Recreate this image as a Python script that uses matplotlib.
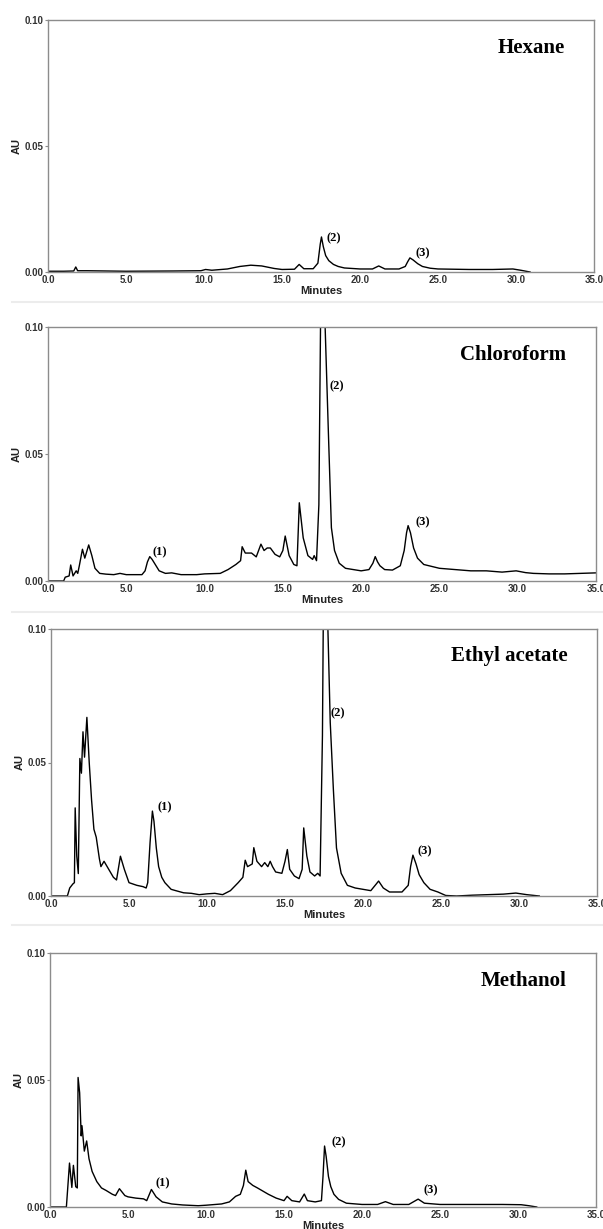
import matplotlib
matplotlib.use("Agg")
import matplotlib.pyplot as plt
from matplotlib.lines import Line2D

W, H = 603, 1229

# --- data (time in minutes, absorbance in AU) ---
hex_t = [0.0, 1.0, 1.65, 1.78, 1.9, 2.5, 5.0, 8.0, 9.8, 10.1, 10.5, 11.5, 12.3, 13.0, 13.7, 14.5,
         15.0, 15.8, 16.1, 16.4, 17.0, 17.3, 17.45, 17.53, 17.65, 17.8, 18.0, 18.3, 18.6, 19.0, 20.0,
         20.8, 21.2, 21.6, 22.5, 22.9, 23.05, 23.2, 23.4, 23.7, 24.0, 24.5, 25.0, 27.0, 28.5, 29.8,
         30.3, 30.9]
hex_au = [0.0003, 0.0003, 0.0004, 0.002, 0.0005, 0.0005, 0.0003, 0.0004, 0.0005, 0.001, 0.0007,
          0.0012, 0.0022, 0.0027, 0.0024, 0.0014, 0.001, 0.0011, 0.003, 0.0013, 0.0013, 0.0035, 0.011,
          0.0139, 0.01, 0.0065, 0.0045, 0.003, 0.0022, 0.0016, 0.0012, 0.0012, 0.0024, 0.0012, 0.0012,
          0.0022, 0.004, 0.0056, 0.0048, 0.0033, 0.0022, 0.0015, 0.0012, 0.001, 0.001, 0.0012, 0.0007,
          0.0]

chl_t = [0.0, 1.0, 1.1, 1.35, 1.45, 1.6, 1.8, 1.9, 2.0, 2.2, 2.35, 2.6, 2.8, 3.0, 3.3, 3.7, 4.2,
         4.6, 5.0, 6.0, 6.2, 6.35, 6.5, 6.65, 6.8, 7.1, 7.5, 7.9, 8.5, 9.5, 10.0, 11.0, 11.5, 12.0,
         12.3, 12.4, 12.6, 13.0, 13.3, 13.6, 13.8, 14.0, 14.2, 14.5, 14.8, 15.0, 15.15, 15.4, 15.7,
         15.9, 16.05, 16.3, 16.6, 16.9, 17.0, 17.15, 17.3, 17.45, 17.7, 17.9, 18.1, 18.3, 18.6, 19.0,
         19.5, 20.0, 20.5, 20.75, 20.9, 21.05, 21.2, 21.5, 22.0, 22.5, 22.75, 22.9, 23.0, 23.15,
         23.35, 23.6, 24.0, 25.0, 26.0, 27.0, 28.0, 29.0, 29.9, 30.5, 31.0, 32.0, 33.0, 34.0, 35.0]
chl_au = [0.0, 0.0, 0.0015, 0.002, 0.0063, 0.002, 0.004, 0.003, 0.006, 0.0125, 0.009, 0.0142, 0.01,
          0.005, 0.003, 0.0027, 0.0025, 0.003, 0.0025, 0.0025, 0.004, 0.0075, 0.0096, 0.0085, 0.007,
          0.004, 0.003, 0.0032, 0.0025, 0.0025, 0.0028, 0.003, 0.0045, 0.0065, 0.008, 0.0135, 0.011,
          0.011, 0.0095, 0.0145, 0.012, 0.013, 0.013, 0.0105, 0.0095, 0.012, 0.0177, 0.01, 0.0065,
          0.006, 0.0308, 0.017, 0.01, 0.0085, 0.01, 0.008, 0.03, 0.13, 0.1, 0.06, 0.021, 0.012, 0.007,
          0.005, 0.0045, 0.004, 0.0045, 0.007, 0.0096, 0.0075, 0.006, 0.0045, 0.0043, 0.006, 0.012,
          0.019, 0.0218, 0.019, 0.013, 0.009, 0.0065, 0.005, 0.0045, 0.004, 0.004, 0.0035, 0.004,
          0.0033, 0.003, 0.0028, 0.0028, 0.003, 0.0032]

eth_t = [0.0, 1.05, 1.2, 1.4, 1.5, 1.55, 1.65, 1.75, 1.85, 1.95, 2.05, 2.15, 2.3, 2.45, 2.6, 2.75,
         2.9, 3.1, 3.2, 3.4, 3.6, 4.0, 4.2, 4.45, 4.7, 5.0, 5.5, 5.9, 6.1, 6.2, 6.35, 6.5, 6.6, 6.75,
         6.9, 7.1, 7.3, 7.7, 8.0, 8.5, 9.0, 9.5, 10.0, 10.5, 11.0, 11.5, 12.0, 12.3, 12.45, 12.6,
         12.9, 13.0, 13.2, 13.5, 13.7, 13.9, 14.05, 14.2, 14.4, 14.8, 15.0, 15.15, 15.3, 15.6, 15.9,
         16.1, 16.2, 16.4, 16.6, 16.9, 17.1, 17.25, 17.4, 17.5, 17.75, 17.9, 18.1, 18.3, 18.6, 19.0,
         19.5, 20.0, 20.5, 20.85, 21.0, 21.3, 21.7, 22.5, 22.9, 23.05, 23.2, 23.4, 23.6, 23.9, 24.3,
         24.8, 25.3, 26.0, 27.0, 28.0, 29.0, 29.8, 30.5, 31.3]
eth_au = [0.0, 0.0, 0.003, 0.0045, 0.005, 0.033, 0.015, 0.0084, 0.0515, 0.046, 0.0615, 0.052,
          0.0669, 0.05, 0.036, 0.025, 0.022, 0.014, 0.011, 0.013, 0.011, 0.007, 0.006, 0.0149, 0.01,
          0.005, 0.004, 0.0035, 0.003, 0.005, 0.02, 0.0318, 0.028, 0.018, 0.011, 0.007, 0.005, 0.0025,
          0.002, 0.0012, 0.001, 0.0005, 0.0008, 0.001, 0.0005, 0.002, 0.005, 0.007, 0.0134, 0.011,
          0.012, 0.0181, 0.013, 0.011, 0.0125, 0.011, 0.013, 0.011, 0.009, 0.0085, 0.013, 0.0174,
          0.01, 0.0075, 0.0065, 0.01, 0.0255, 0.015, 0.009, 0.0075, 0.0085, 0.0075, 0.06, 0.14, 0.1,
          0.065, 0.04, 0.018, 0.0085, 0.004, 0.003, 0.0025, 0.002, 0.0045, 0.0056, 0.003, 0.0015,
          0.0015, 0.004, 0.011, 0.0153, 0.012, 0.008, 0.005, 0.0025, 0.0015, 0.0002, 0.0, 0.0003,
          0.0005, 0.0007, 0.0011, 0.0005, 0.0]

met_t = [0.0, 1.05, 1.25, 1.4, 1.5, 1.65, 1.75, 1.8, 1.9, 2.0, 2.05, 2.2, 2.35, 2.5, 2.7, 3.0, 3.3,
         3.6, 4.0, 4.2, 4.45, 4.8, 5.0, 5.5, 6.0, 6.2, 6.5, 6.8, 7.2, 7.8, 8.5, 9.5, 10.0, 11.0, 11.5,
         11.9, 12.2, 12.4, 12.55, 12.7, 13.0, 13.3, 14.0, 14.5, 15.0, 15.2, 15.5, 16.0, 16.3, 16.5,
         17.0, 17.4, 17.5, 17.6, 17.7, 17.85, 18.0, 18.2, 18.5, 19.0, 20.0, 21.0, 21.5, 22.0, 23.0,
         23.6, 24.0, 25.0, 27.0, 29.0, 30.2, 30.7, 31.2]
met_au = [0.0, 0.0, 0.0173, 0.0077, 0.0164, 0.008, 0.0075, 0.051, 0.045, 0.028, 0.032, 0.022, 0.026,
          0.019, 0.014, 0.01, 0.0075, 0.0065, 0.005, 0.0045, 0.0072, 0.0045, 0.004, 0.0035, 0.0032,
          0.0025, 0.0069, 0.004, 0.002, 0.0012, 0.0008, 0.0005, 0.0007, 0.0012, 0.002, 0.0042, 0.005,
          0.0085, 0.0145, 0.01, 0.0085, 0.0075, 0.005, 0.0035, 0.0025, 0.0042, 0.0025, 0.002, 0.0051,
          0.0025, 0.002, 0.0025, 0.012, 0.024, 0.02, 0.012, 0.008, 0.005, 0.003, 0.0015, 0.001, 0.001,
          0.0021, 0.001, 0.001, 0.0031, 0.0015, 0.001, 0.001, 0.001, 0.0009, 0.0005, 0.0]

solvents = ["Hexane", "Chloroform", "Ethyl acetate", "Methanol"]
series = [(hex_t, hex_au), (chl_t, chl_au), (eth_t, eth_au), (met_t, met_au)]

# peak labels: (text, minutes, AU)
peak_labels = [
    [("(2)", 18.3, 0.0132), ("(3)", 24.05, 0.0075)],
    [("(1)", 7.14, 0.0113), ("(2)", 18.47, 0.0767), ("(3)", 23.94, 0.0233)],
    [("(1)", 7.32, 0.0334), ("(2)", 18.4, 0.0684), ("(3)", 23.94, 0.0169)],
    [("(1)", 7.2, 0.0094), ("(2)", 18.5, 0.0254), ("(3)", 24.4, 0.0064)],
]

# panel boxes in pixels: left, right, top, bottom
boxes = [(48, 594, 20, 272), (48, 596, 327, 581), (51, 597, 629, 896), (50, 596, 953, 1207)]

fig = plt.figure(figsize=(W / 100, H / 100), dpi=100)

# faint borders between the stitched panels
for yp in [302, 612, 925]:
    fig.add_artist(Line2D([12 / W, 1], [1 - yp / H, 1 - yp / H], color="#ececec", lw=1.5))

sans = "Liberation Sans"
serif = "Liberation Serif"

for i, (name, (t, au)) in enumerate(zip(solvents, series)):
    l, r, tp, b = boxes[i]
    ax = fig.add_axes([l / W, 1 - b / H, (r - l) / W, (b - tp) / H])
    ax.plot(t, au, color="black", lw=1.0)
    ax.set_xlim(0, 35)
    ax.set_ylim(0, 0.10)
    ax.set_xticks([0, 5, 10, 15, 20, 25, 30, 35])
    ax.set_xticklabels([f"{v:.1f}" for v in [0, 5, 10, 15, 20, 25, 30, 35]])
    ax.set_yticks([0.0, 0.05, 0.10])
    ax.set_yticklabels(["0.00", "0.05", "0.10"])
    for s in ax.spines.values():
        s.set_color("#8c8c8c")
        s.set_linewidth(1.0)
    ax.tick_params(axis="y", length=2.5, width=0.8, color="#8c8c8c", pad=1)
    ax.tick_params(axis="x", length=0, pad=2)
    for lab in ax.get_xticklabels() + ax.get_yticklabels():
        lab.set_fontfamily(sans)
        lab.set_fontweight("bold")
        lab.set_fontsize(7)
        lab.set_color("#333333")
    ax.set_xlabel("Minutes", fontfamily=sans, fontweight="bold", fontsize=8, color="#222222", labelpad=1)
    ax.set_ylabel("AU", fontfamily=sans, fontweight="bold", fontsize=8, color="#222222", labelpad=2)
    ax.text(0.946, 0.89 if i != 2 else 0.9, name, transform=ax.transAxes, ha="right", va="center",
            fontfamily=serif, fontweight="bold", fontsize=15)
    for txt, px, py in peak_labels[i]:
        ax.text(px, py, txt, ha="center", va="center", fontfamily=serif, fontweight="bold", fontsize=9)

fig.savefig("out.png", dpi=100)
